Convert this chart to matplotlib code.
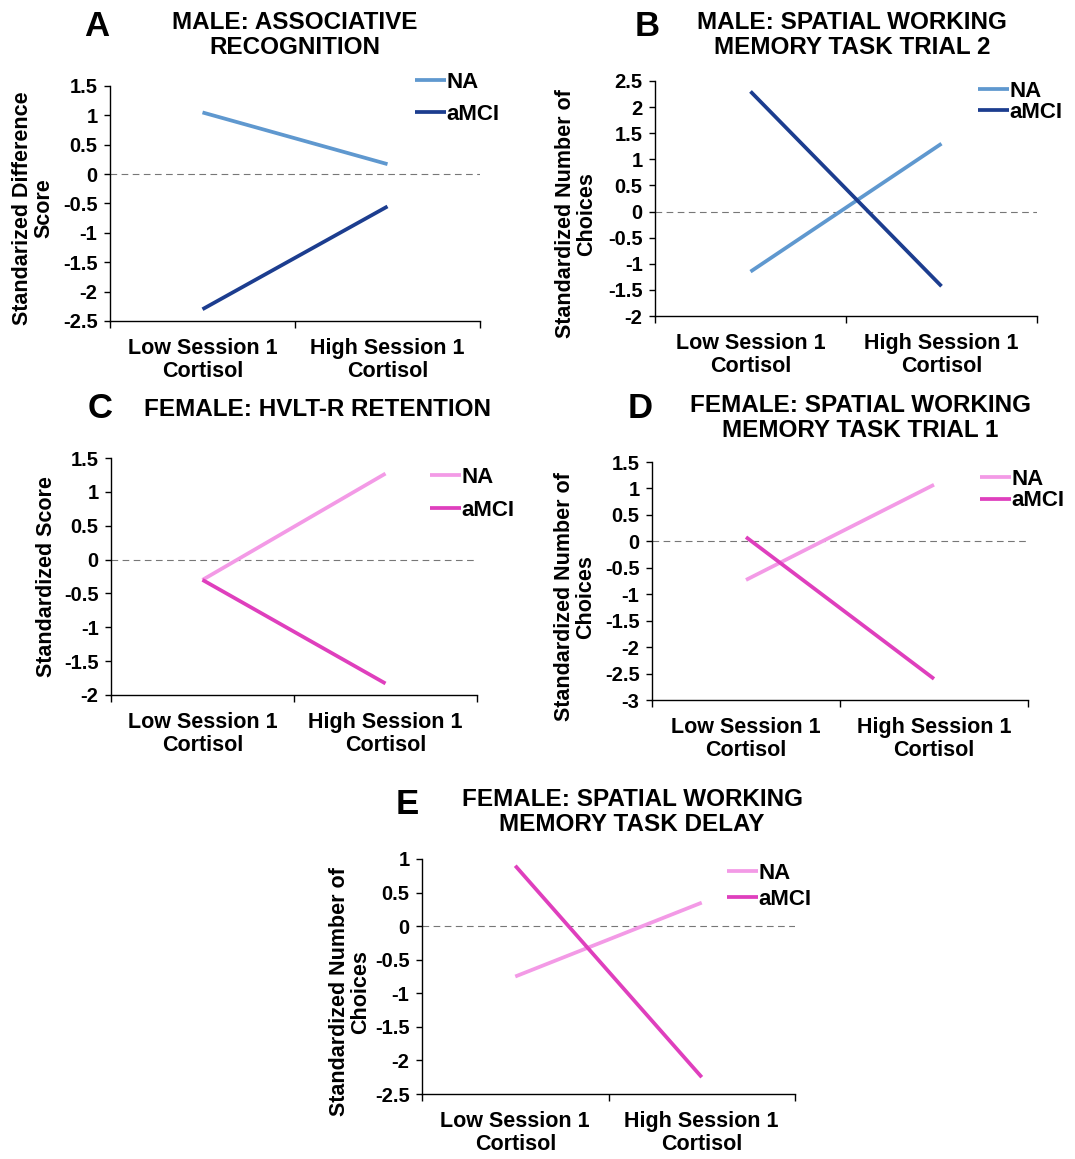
import matplotlib
matplotlib.use("Agg")
import matplotlib.pyplot as plt
from matplotlib.ticker import MultipleLocator, FixedLocator, FormatStrFormatter

plt.rcParams['font.family'] = ['Liberation Sans', 'DejaVu Sans']
plt.rcParams['font.weight'] = 'bold'

W, H = 1075, 1159

categories = ["Low Session 1\nCortisol", "High Session 1\nCortisol"]
groups = ["NA", "aMCI"]

# values, one pair per group (low, high)
a_na = [1.05, 0.17]
a_amci = [-2.3, -0.55]
b_na = [-1.15, 1.3]
b_amci = [2.3, -1.43]
c_na = [-0.3, 1.27]
c_amci = [-0.3, -1.83]
d_na = [-0.73, 1.07]
d_amci = [0.08, -2.6]
e_na = [-0.75, 0.35]
e_amci = [0.9, -2.25]

blue = ["#5F98CF", "#1C3D8F"]
pink = ["#F39AE6", "#DF3FBD"]

panels = [
    # letter, title, ylabel, series, colours, ylim, box(px), title pos, letter pos, ylabel pos, legend pos, legend gap
    ("A", "MALE: ASSOCIATIVE\nRECOGNITION", "Standarized Difference\nScore",
     (a_na, a_amci), blue, (-2.5, 1.5), (110, 86, 480, 321),
     (295, 35), (97, 27), (33, 208), (415, 72), 0.5),
    ("B", "MALE: SPATIAL WORKING\nMEMORY TASK TRIAL 2", "Standardized Number of\nChoices",
     (b_na, b_amci), blue, (-2, 2.5), (655, 81, 1037, 316),
     (852, 35), (647, 27), (576, 214), (978, 81), 0.0),
    ("C", "FEMALE: HVLT-R RETENTION", "Standardized Score",
     (c_na, c_amci), pink, (-2, 1.5), (111, 458, 477, 695),
     (318, 410), (100, 408), (47, 577), (430, 467), 0.55),
    ("D", "FEMALE: SPATIAL WORKING\nMEMORY TASK TRIAL 1", "Standardized Number of\nChoices",
     (d_na, d_amci), pink, (-3, 1.5), (652, 462, 1028, 700),
     (860, 418), (640, 408), (575, 597), (980, 469), 0.02),
    ("E", "FEMALE: SPATIAL WORKING\nMEMORY TASK DELAY", "Standardized Number of\nChoices",
     (e_na, e_amci), pink, (-2.5, 1), (422, 859, 795, 1094),
     (632, 812), (407, 805), (350, 992), (727, 863), 0.22),
]

fig = plt.figure(figsize=(W / 100, H / 100), dpi=100)

for (letter, title, ylab, series, cols, ylim, box, tpos, lpos, ypos, legpos, gap) in panels:
    x0, y0, x1, y1 = box
    ax = fig.add_axes([x0 / W, 1 - y1 / H, (x1 - x0) / W, (y1 - y0) / H])
    xs = [0.5, 1.5]
    for vals, col, name in zip(series, cols, groups):
        ax.plot(xs, vals, color=col, lw=2.7, label=name, solid_capstyle='butt')
    ax.axhline(0, color='#777777', lw=0.8, ls=(0, (6, 4)), zorder=0)
    ax.set_xlim(0, 2)
    ax.set_ylim(*ylim)
    ax.yaxis.set_major_locator(MultipleLocator(0.5))
    ax.yaxis.set_major_formatter(FormatStrFormatter('%g'))
    ax.xaxis.set_major_locator(FixedLocator([0, 1, 2]))
    ax.xaxis.set_major_formatter(plt.NullFormatter())
    ax.xaxis.set_minor_locator(FixedLocator(xs))
    ax.set_xticklabels(categories, minor=True, linespacing=1.15)
    ax.tick_params(axis='x', which='major', direction='out', length=5, width=1)
    ax.tick_params(axis='x', which='minor', length=0, pad=12, labelsize=15.5)
    ax.tick_params(axis='y', direction='out', length=4, width=1, pad=5, labelsize=14.5)
    for s in ('top', 'right'):
        ax.spines[s].set_visible(False)
    for s in ('left', 'bottom'):
        ax.spines[s].set_linewidth(1)
        ax.spines[s].set_color('black')

    fig.text(tpos[0] / W, 1 - tpos[1] / H, title, ha='center', va='center',
             fontsize=17.5, fontweight='bold', linespacing=1.12)
    fig.text(lpos[0] / W, 1 - lpos[1] / H, letter, ha='center', va='center',
             fontsize=25, fontweight='bold')
    fig.text(ypos[0] / W, 1 - ypos[1] / H, ylab, ha='center', va='center',
             rotation=90, fontsize=15.5, fontweight='bold', linespacing=1.0)
    ax.legend(loc='upper left', bbox_to_anchor=(legpos[0] / W, 1 - legpos[1] / H),
              bbox_transform=fig.transFigure, frameon=False, fontsize=16,
              handlelength=1.4, handletextpad=0.0, labelspacing=gap,
              borderpad=0, borderaxespad=0)

fig.savefig("out.png", dpi=100)
